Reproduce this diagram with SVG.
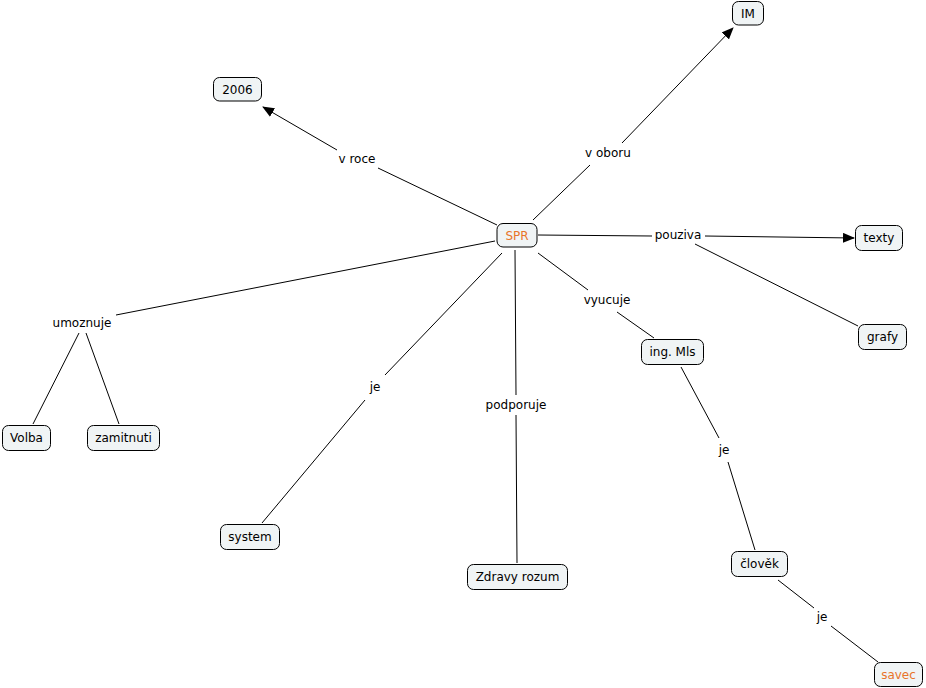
<svg xmlns="http://www.w3.org/2000/svg" width="926" height="688" viewBox="0 0 926 688">
<defs>
<marker id="arr" viewBox="0 0 12 10" refX="11" refY="5" markerWidth="12" markerHeight="10" markerUnits="userSpaceOnUse" orient="auto">
<path d="M0,0 L12,5 L0,10 Z" fill="#000"/>
</marker>
<style>
.box{fill:#f0f4f5;stroke:#000;stroke-width:1}
.t{font-family:"DejaVu Sans",Verdana,sans-serif;font-size:12px;fill:#000;text-anchor:middle}
.o{fill:#e8742a}
.ln{stroke:#000;stroke-width:1;fill:none}
</style>
</defs>
<rect width="926" height="688" fill="#fff"/>
<g id="connectors">
<line class="ln" x1="497" y1="225" x2="378" y2="168"/>
<line class="ln" x1="337" y1="150" x2="263" y2="107" marker-end="url(#arr)"/>
<line class="ln" x1="533" y1="220" x2="590" y2="165"/>
<line class="ln" x1="622" y1="143" x2="733" y2="28" marker-end="url(#arr)"/>
<line class="ln" x1="538" y1="235" x2="652" y2="236"/>
<line class="ln" x1="705" y1="236" x2="854" y2="238" marker-end="url(#arr)"/>
<line class="ln" x1="695" y1="244" x2="858" y2="326"/>
<line class="ln" x1="538" y1="253" x2="588" y2="290"/>
<line class="ln" x1="617" y1="312" x2="654" y2="338"/>
<line class="ln" x1="495" y1="241" x2="116" y2="315"/>
<line class="ln" x1="79" y1="333" x2="33" y2="424"/>
<line class="ln" x1="86" y1="333" x2="119" y2="424"/>
<line class="ln" x1="502" y1="253" x2="385" y2="375"/>
<line class="ln" x1="365" y1="400" x2="262" y2="523"/>
<line class="ln" x1="515" y1="250" x2="516" y2="395"/>
<line class="ln" x1="516" y1="415" x2="517" y2="563"/>
<line class="ln" x1="681" y1="367" x2="719" y2="438"/>
<line class="ln" x1="728" y1="462" x2="755" y2="550"/>
<line class="ln" x1="778" y1="580" x2="814" y2="608"/>
<line class="ln" x1="831" y1="626" x2="878" y2="662"/>
</g>
<g id="labels">
<text class="t" x="357" y="163">v roce</text>
<text class="t" x="608" y="157">v oboru</text>
<text class="t" x="678" y="239">pouziva</text>
<text class="t" x="607" y="304">vyucuje</text>
<text class="t" x="82" y="327">umoznuje</text>
<text class="t" x="375" y="391">je</text>
<text class="t" x="516" y="409">podporuje</text>
<text class="t" x="724" y="454">je</text>
<text class="t" x="822" y="621">je</text>
</g>
<g id="SPR"><rect class="box" x="497" y="223.5" width="40" height="23.5" rx="6"/><text class="t o" x="517" y="239.5">SPR</text></g>
<g id="n2006"><rect class="box" x="213.5" y="77.5" width="48" height="23.5" rx="6"/><text class="t" x="237.5" y="93.5">2006</text></g>
<g id="IM"><rect class="box" x="732.5" y="1.5" width="31" height="23.5" rx="6"/><text class="t" x="748" y="17.5">IM</text></g>
<g id="texty"><rect class="box" x="855.5" y="225.5" width="47" height="25" rx="6"/><text class="t" x="879" y="242">texty</text></g>
<g id="grafy"><rect class="box" x="858.5" y="324.5" width="48" height="25" rx="6"/><text class="t" x="882.5" y="341">grafy</text></g>
<g id="Volba"><rect class="box" x="2.5" y="425.5" width="48" height="25" rx="6"/><text class="t" x="26.5" y="442">Volba</text></g>
<g id="zamitnuti"><rect class="box" x="87.5" y="425.5" width="72" height="25" rx="6"/><text class="t" x="123.5" y="442">zamitnuti</text></g>
<g id="ingMls"><rect class="box" x="641.5" y="339.5" width="62" height="25" rx="6"/><text class="t" x="672.5" y="356">ing. Mls</text></g>
<g id="clovek"><rect class="box" x="731.5" y="551.5" width="56" height="25" rx="6"/><text class="t" x="759.5" y="568">člověk</text></g>
<g id="savec"><rect class="box" x="874.5" y="662.5" width="48" height="24" rx="6"/><text class="t o" x="898.5" y="679">savec</text></g>
<g id="ZdravyRozum"><rect class="box" x="467.5" y="564.5" width="100" height="25" rx="6"/><text class="t" x="517.5" y="581">Zdravy rozum</text></g>
<g id="system"><rect class="box" x="220.5" y="524.5" width="59" height="25" rx="6"/><text class="t" x="250" y="541">system</text></g>
</svg>
